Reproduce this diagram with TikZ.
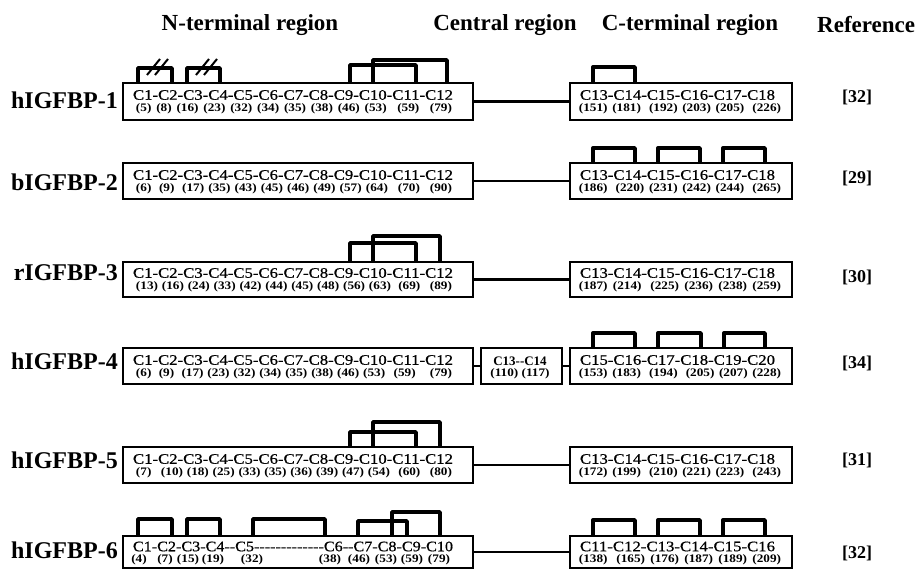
\documentclass[tikz,border=0pt]{standalone}
\usepackage{fontspec}
\setmainfont{Liberation Serif}
\newfontfamily\labfont{Liberation Serif}[FakeBold=0.6]
\usepackage{graphicx}
\tikzset{
 x=1pt, y=-1pt,
 box/.style={draw, line width=1.1pt, inner sep=0pt},
 bond/.style={line width=3.4pt, line join=round},
 slash/.style={line width=2pt},
 conn/.style={line width=2.8pt},
 hdr/.style={font=\fontsize{23}{26}\selectfont\bfseries, inner sep=0pt},
 rowlab/.style={font=\fontsize{24}{28}\selectfont\bfseries, anchor=east, inner sep=0pt},
 reflab/.style={font=\fontsize{18}{20}\selectfont\bfseries, inner sep=0pt},
 clab/.style={font=\fontsize{14.5}{16}\selectfont\labfont, inner sep=0pt},
 num/.style={font=\fontsize{11.5}{12}\selectfont\bfseries, inner sep=0pt},
 cnum/.style={font=\fontsize{11.5}{12}\selectfont\bfseries, inner sep=0pt},
 mlab/.style={font=\fontsize{13}{14}\selectfont\bfseries, inner sep=0pt},
}
\newcommand\NL[1]{\resizebox{320pt}{\height}{#1}}
\newcommand\CL[1]{\resizebox{195pt}{\height}{#1}}
\newcommand\NN[1]{\scalebox{1.15}[1]{\makebox[274.8pt][s]{#1}}}
\newcommand\CN[1]{\scalebox{1.15}[1]{\makebox[175.7pt][s]{#1}}}
\newcommand\SN[1]{\scalebox{1.15}[1]{#1}}
\newcommand\bnd[4]{\draw[bond] (#2,0 |- #1.north) -- (#2,#4) -- (#3,#4) -- (#3,0 |- #1.north);}
\begin{document}
\begin{tikzpicture}
\useasboundingbox (0,0) rectangle (923,569);
% headers
\node[hdr] (h1) at (250,25) {N-terminal region};
\node[hdr] (h2) at (505,25) {Central region};
\node[hdr] (h3) at (690,25) {C-terminal region};
\node[hdr, anchor=west] (h4) at (817,25) {Reference};

% ---------- Row 1
\node[rowlab] (r1) at (118,100) {hIGFBP-1};
\node[box, minimum width=350pt, minimum height=37pt] (n1) at (298,101.5) {};
\node[box, minimum width=222pt, minimum height=37pt] (c1) at (681,101.5) {};
\draw[conn] (n1.east) -- (c1.west);
\node[clab] (n1l) at (293,95) {\NL{C1-C2-C3-C4-C5-C6-C7-C8-C9-C10-C11-C12}};
\node[num] (n1n) at (294,108.5) {\NN{(5) (8) (16) (23) (32) (34) (35) (38) (46) (53)\hspace{5pt} (59)\hspace{5pt} (79)}};
\node[clab] (c1l) at (677.5,95) {\CL{C13-C14-C15-C16-C17-C18}};
\node[cnum] (c1n) at (680,108.5) {\CN{(151) (181)\hspace{3pt} (192) (203) (205)\hspace{3pt} (226)}};
\bnd{n1}{138}{172}{68}
\bnd{n1}{187}{220}{68}
\draw[slash] (147,75) -- (160,59);
\draw[slash] (155,75) -- (168,59);
\draw[slash] (196,75) -- (209,59);
\draw[slash] (204,75) -- (217,59);
\bnd{n1}{350}{416}{65}
\bnd{n1}{373}{447}{60}
\bnd{c1}{593}{635}{67}
\node[reflab] (ref1) at (857,97) {[32]};

% ---------- Row 2
\node[rowlab] (r2) at (118,182) {bIGFBP-2};
\node[box, minimum width=350pt, minimum height=36pt] (n2) at (298,181) {};
\node[box, minimum width=222pt, minimum height=36pt] (c2) at (681,181) {};
\draw[conn] (n2.east) -- (c2.west);
\node[clab] (n2l) at (293,175) {\NL{C1-C2-C3-C4-C5-C6-C7-C8-C9-C10-C11-C12}};
\node[num] (n2n) at (294,188.5) {\NN{(6)\hspace{3pt} (9)\hspace{3pt} (17) (35) (43) (45) (46) (49) (57) (64)\hspace{5pt} (70)\hspace{5pt} (90)}};
\node[clab] (c2l) at (677.5,175) {\CL{C13-C14-C15-C16-C17-C18}};
\node[cnum] (c2n) at (680,188.5) {\CN{(186)\hspace{3pt} (220) (231) (242) (244)\hspace{3pt} (265)}};
\bnd{c2}{593}{635}{148}
\bnd{c2}{658}{700}{148}
\bnd{c2}{723}{765}{148}
\node[reflab] (ref2) at (857,178) {[29]};

% ---------- Row 3
\node[rowlab] (r3) at (118,273) {rIGFBP-3};
\node[box, minimum width=350pt, minimum height=35pt] (n3) at (298,279.5) {};
\node[box, minimum width=222pt, minimum height=35pt] (c3) at (681,279.5) {};
\draw[conn] (n3.east) -- (c3.west);
\node[clab] (n3l) at (293,273) {\NL{C1-C2-C3-C4-C5-C6-C7-C8-C9-C10-C11-C12}};
\node[num] (n3n) at (294,286.5) {\NN{(13) (16) (24) (33) (42) (44) (45) (48) (56) (63)\hspace{3pt} (69)\hspace{5pt} (89)}};
\node[clab] (c3l) at (677.5,273) {\CL{C13-C14-C15-C16-C17-C18}};
\node[cnum] (c3n) at (680,286.5) {\CN{(187) (214)\hspace{3pt} (225) (236) (238) (259)}};
\bnd{n3}{350}{416}{243}
\bnd{n3}{373}{440}{236}
\node[reflab] (ref3) at (857,277) {[30]};

% ---------- Row 4
\node[rowlab] (r4) at (118,361) {hIGFBP-4};
\node[box, minimum width=350pt, minimum height=36pt] (n4) at (298,366) {};
\node[box, minimum width=81pt, minimum height=36pt] (m4) at (521.5,366) {};
\node[box, minimum width=222pt, minimum height=36pt] (c4) at (681,366) {};
\draw[conn] (n4.east) -- (m4.west);
\draw[conn] (m4.east) -- (c4.west);
\node[clab] (n4l) at (293,360) {\NL{C1-C2-C3-C4-C5-C6-C7-C8-C9-C10-C11-C12}};
\node[num] (n4n) at (294,373.5) {\NN{(6)\hspace{3pt} (9)\hspace{3pt} (17) (23) (32) (34) (35) (38) (46) (53)\hspace{4pt} (59)\hspace{9pt} (79)}};
\node[mlab] (m4l) at (520,361) {C13-{}-C14};
\node[num] (m4n) at (520,374) {\SN{(110) (117)}};
\node[clab] (c4l) at (677.5,360) {\CL{C15-C16-C17-C18-C19-C20}};
\node[cnum] (c4n) at (680,373.5) {\CN{(153) (183)\hspace{3pt} (194)\hspace{3pt} (205) (207) (228)}};
\bnd{c4}{593}{635}{333}
\bnd{c4}{658}{701}{333}
\bnd{c4}{724}{765}{333}
\node[reflab] (ref4) at (857,363) {[34]};

% ---------- Row 5
\node[rowlab] (r5) at (118,460) {hIGFBP-5};
\node[box, minimum width=350pt, minimum height=36pt] (n5) at (298,465) {};
\node[box, minimum width=222pt, minimum height=36pt] (c5) at (681,465) {};
\draw[conn] (n5.east) -- (c5.west);
\node[clab] (n5l) at (293,459) {\NL{C1-C2-C3-C4-C5-C6-C7-C8-C9-C10-C11-C12}};
\node[num] (n5n) at (294,472.5) {\NN{(7)\hspace{5pt} (10) (18) (25) (33) (35) (36) (39) (47) (54)\hspace{4pt} (60)\hspace{5pt} (80)}};
\node[clab] (c5l) at (677.5,459) {\CL{C13-C14-C15-C16-C17-C18}};
\node[cnum] (c5n) at (680,472.5) {\CN{(172) (199)\hspace{3pt} (210) (221) (223)\hspace{3pt} (243)}};
\bnd{n5}{350}{416}{432}
\bnd{n5}{373}{440}{422}
\node[reflab] (ref5) at (857,460) {[31]};

% ---------- Row 6
\node[rowlab] (r6) at (118,550) {hIGFBP-6};
\node[box, minimum width=350pt, minimum height=32pt] (n6) at (298,552) {};
\node[box, minimum width=222pt, minimum height=32pt] (c6) at (681,552) {};
\draw[conn] (n6.east) -- (c6.west);
\node[clab] (n6l) at (293,546.5) {\NL{C1-C2-C3-C4-{}-C5-{}-{}-{}-{}-{}-{}-{}-{}-{}-{}-{}-{}-C6-{}-C7-C8-C9-C10}};
\foreach \xx/\tt [count=\i] in {139/{(4)},165/{(7)},188/{(15)},213/{(19)},252/{(32)},330/{(38)},359/{(46)},386/{(53)},412/{(59)},439/{(79)}}
  \node[num] (n6n\i) at (\xx,559.5) {\SN{\tt}};
\node[clab] (c6l) at (677.5,546.5) {\CL{C11-C12-C13-C14-C15-C16}};
\node[cnum] (c6n) at (680,559.5) {\CN{(138)\hspace{3pt} (165) (176) (187) (189) (209)}};
\bnd{n6}{138}{172}{519}
\bnd{n6}{187}{220}{519}
\bnd{n6}{253}{325}{519}
\bnd{n6}{358}{407}{521}
\bnd{n6}{392}{440}{512}
\bnd{c6}{593}{635}{520}
\bnd{c6}{658}{700}{520}
\bnd{c6}{723}{765}{520}
\node[reflab] (ref6) at (857,553) {[32]};
\end{tikzpicture}
\end{document}
